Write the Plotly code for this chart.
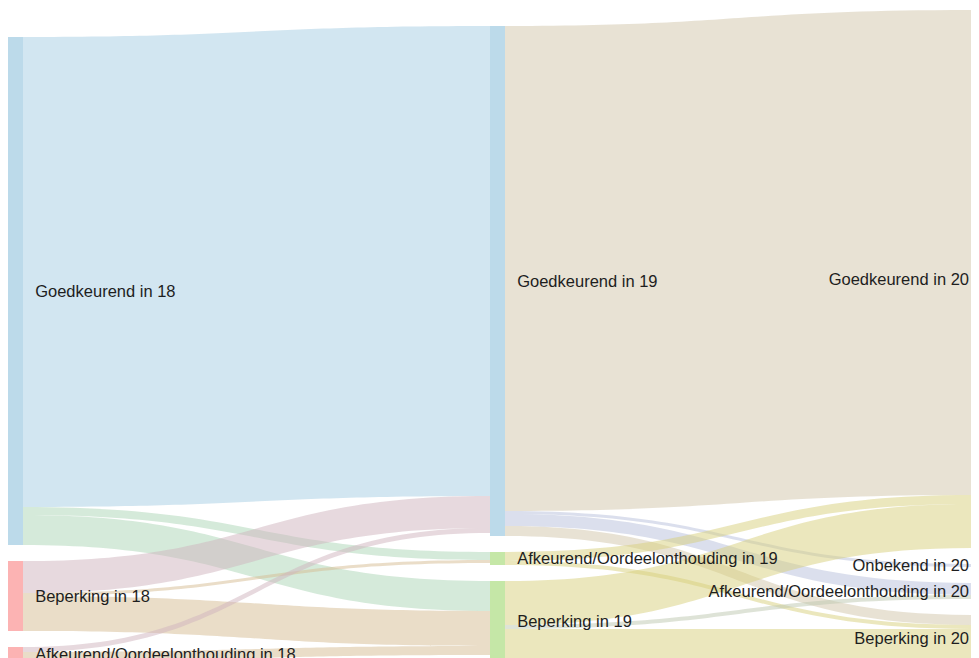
import plotly.graph_objects as go

# ---- data ----
labels = [
    "Goedkeurend in 18", "Beperking in 18", "Afkeurend/Oordeelonthouding in 18",
    "Goedkeurend in 19", "Afkeurend/Oordeelonthouding in 19", "Beperking in 19",
    "Goedkeurend in 20", "Onbekend in 20", "Afkeurend/Oordeelonthouding in 20", "Beperking in 20",
]
sources = [0, 0, 0, 1, 1, 1, 2, 2,
           3, 3, 3, 3, 4, 4, 5, 5, 5]
targets = [3, 4, 5, 3, 4, 5, 3, 5,
           6, 7, 8, 9, 6, 9, 6, 8, 9]
values = [470, 8, 30, 32, 3, 35, 5, 9,
          485, 3, 12, 10, 9, 4, 44, 4, 32]

# ---- styling ----
node_colors = ["#a6cee3", "#fb9a99", "#fb9a99",
               "#a6cee3", "#b2df8a", "#b2df8a",
               "#fdbf6f", "#cab2d6", "#cab2d6", "#fdbf6f"]


def hex_rgb(h):
    h = h.lstrip("#")
    return tuple(int(h[i:i + 2], 16) for i in (0, 2, 4))


def blend(a, b, alpha=0.5):
    ra, rb = hex_rgb(a), hex_rgb(b)
    m = [round((x + y) / 2) for x, y in zip(ra, rb)]
    return f"rgba({m[0]},{m[1]},{m[2]},{alpha})"


link_colors = [blend(node_colors[s], node_colors[t], 0.5) for s, t in zip(sources, targets)]
node_fill = [f"rgba({r},{g},{b},0.75)" for r, g, b in (hex_rgb(c) for c in node_colors)]

# labels of the first two columns sit a little further from their node
display_labels = [("\u00a0\u00a0" + lab) if i < 6 else lab for i, lab in enumerate(labels)]

fig = go.Figure(go.Sankey(
    arrangement="snap",
    node=dict(
        label=display_labels,
        color=node_fill,
        pad=16,
        thickness=15,
        line=dict(width=0),
    ),
    link=dict(
        source=sources,
        target=targets,
        value=values,
        color=link_colors,
        line=dict(width=0),
    ),
    textfont=dict(family="Liberation Sans, Arial, sans-serif", size=16.5, color="#1e1e1e", shadow="none"),
))

fig.update_layout(
    width=979,
    height=658,
    margin=dict(l=0, r=0, t=2, b=5),
    paper_bgcolor="white",
    plot_bgcolor="white",
)

fig.write_html("out.html")
